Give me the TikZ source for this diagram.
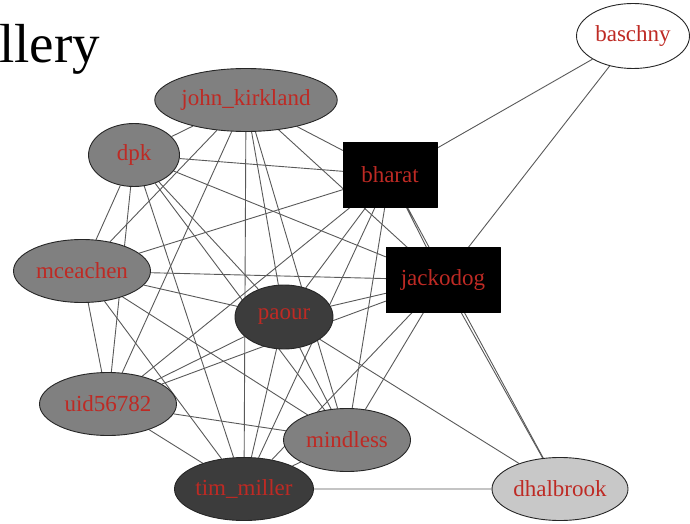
\documentclass[tikz,border=0pt]{standalone}
\usepackage{fontspec}
\setmainfont{Liberation Serif}
\usetikzlibrary{shapes.geometric,backgrounds}
\definecolor{namered}{RGB}{190,42,36}
\definecolor{midgray}{RGB}{128,128,128}
\definecolor{darkgray}{RGB}{60,60,60}
\definecolor{lightgray}{RGB}{200,200,200}
\begin{document}
\begin{tikzpicture}[line cap=round,line join=round,x=1pt,y=-1pt,
	user/.style={ellipse,draw=black!85,line width=0.9pt,inner sep=0pt,minimum height=63pt,text=namered,font=\fontsize{23}{25}\selectfont},
	boxuser/.style={rectangle,fill=black,draw=black,inner sep=0pt,minimum height=65pt,text=namered,font=\fontsize{23}{25}\selectfont},
	edge/.style={draw=black!65,line width=0.9pt}]
		\useasboundingbox (0,0) rectangle (690,524);
		\node[anchor=base west,font=\fontsize{55}{60}\selectfont,inner sep=0pt] (title) at (-1,63) {llery};
		% people
		\node[user,fill=midgray,minimum width=173pt] (jk) at (246,100) {john\_kirkland};
		\node[user,fill=midgray,minimum width=91pt] (dpk) at (134,155) {dpk};
		\node[user,fill=midgray,minimum width=137pt] (mce) at (82,271) {mceachen};
		\node[user,fill=midgray,minimum width=137pt] (uid) at (108,404) {uid56782};
		\node[user,fill=darkgray,minimum width=139pt] (tim) at (244,489) {tim\_miller};
		\node[user,fill=midgray,minimum width=127pt] (mind) at (347,440) {mindless};
		\node[user,fill=darkgray,minimum width=98pt,minimum height=64pt] (paour) at (284,317) {paour};
		\node[user,fill=lightgray,minimum width=136pt] (dhal) at (560,489) {dhalbrook};
		\node[user,fill=white,minimum width=113pt,minimum height=65pt] (basch) at (633,36) {baschny};
		\node[boxuser,minimum width=94pt] (bharat) at (390,175) {bharat};
		\node[boxuser,minimum width=114pt] (jacko) at (443,280) {jackodog};
		% links
		\begin{pgfonlayer}{background}
		\draw[edge] (jk)--(dpk) (jk)--(mce) (jk)--(uid) (jk)--(tim) (jk)--(mind) (jk)--(paour) (jk)--(bharat) (jk)--(jacko);
		\draw[edge] (dpk)--(mce) (dpk)--(uid) (dpk)--(tim) (dpk)--(mind) (dpk)--(paour) (dpk)--(bharat) (dpk)--(jacko);
		\draw[edge] (mce)--(uid) (mce)--(tim) (mce)--(mind) (mce)--(paour) (mce)--(bharat) (mce)--(jacko);
		\draw[edge] (uid)--(tim) (uid)--(mind) (uid)--(paour) (uid)--(bharat) (uid)--(jacko);
		\draw[edge] (tim)--(mind) (tim)--(paour) (tim)--(bharat) (tim)--(jacko) (tim)--(dhal);
		\draw[edge] (mind)--(paour) (mind)--(bharat) (mind)--(jacko);
		\draw[edge] (paour)--(bharat) (paour)--(jacko) (paour)--(dhal);
		\draw[edge] (bharat)--(jacko) (bharat)--(dhal) (bharat)--(basch);
		\draw[edge] (jacko)--(dhal) (jacko)--(basch);
		\end{pgfonlayer}
\end{tikzpicture}
\end{document}
